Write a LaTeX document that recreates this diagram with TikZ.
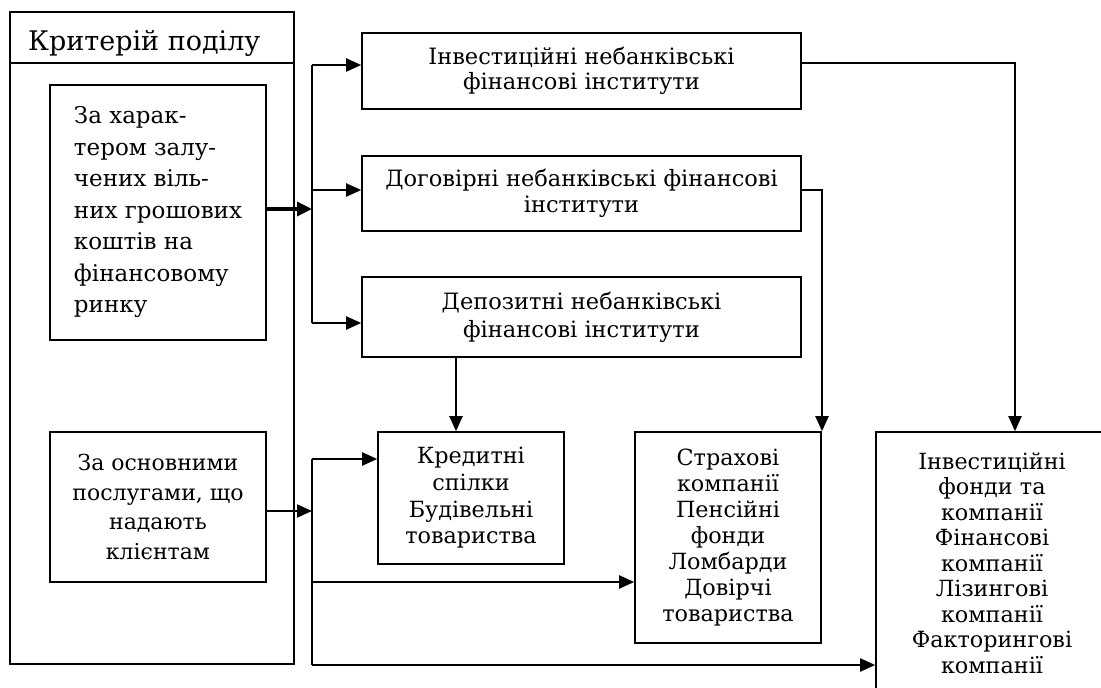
\documentclass[tikz,border=0pt]{standalone}
\usepackage{fontspec}
\setmainfont{DejaVu Serif}
\usetikzlibrary{arrows.meta}
\begin{document}
\begin{tikzpicture}[x=1pt,y=-1pt,
  box/.style={draw, line width=1.6pt, inner sep=0pt, align=center, font=\fontsize{22.3}{26}\selectfont},
  arr/.style={line width=2pt, -{Triangle[length=15pt,width=13pt]}},
  thickarr/.style={line width=3.4pt, -{Triangle[length=15pt,width=14pt]}},
  bus/.style={line width=2pt},
  sep/.style={line width=1.6pt}]
\useasboundingbox (0,0) rectangle (1101,688);
% outer criterion box
\node[box, minimum width=284pt, minimum height=652pt] (outer) at (152,338) {};
\node[anchor=base west, inner sep=0pt, font=\fontsize{27}{30}\selectfont] (hdr) at (28,50) {Критерій поділу};
\coordinate (hl) at (0,63);
\draw[sep] (outer.west |- hl) -- (outer.east |- hl);
% criteria
\node[box, align=left, minimum width=216pt, minimum height=255pt, font=\fontsize{23}{31.5}\selectfont] (k1) at (158,212.5)
  {За харак-\\тером залу-\\чених віль-\\них грошових\\коштів на\\фінансовому\\ринку};
\node[box, minimum width=216pt, minimum height=150pt, font=\fontsize{22}{29.5}\selectfont] (k2) at (158,507)
  {За основними\\послугами, що\\надають\\клієнтам};
% groups
\node[box, minimum width=439pt, minimum height=76pt, font=\fontsize{22.5}{25}\selectfont] (A) at (581.5,71)
  {Інвестиційні небанківські\\фінансові інститути};
\node[box, minimum width=439pt, minimum height=75pt, font=\fontsize{22.5}{26}\selectfont] (B) at (581.5,193.5)
  {Договірні небанківські фінансові\\інститути};
\node[box, minimum width=439pt, minimum height=80pt, font=\fontsize{22.5}{28}\selectfont] (C) at (581.5,317)
  {Депозитні небанківські\\фінансові інститути};
% institutions
\node[box, minimum width=186pt, minimum height=132pt, font=\fontsize{22.3}{26.7}\selectfont] (D) at (471,498)
  {Кредитні\\спілки\\Будівельні\\товариства};
\node[box, minimum width=186pt, minimum height=211pt] (E) at (728,537.5)
  {Страхові\\компанії\\Пенсійні\\фонди\\Ломбарди\\Довірчі\\товариства};
\node[box, minimum width=232pt, minimum height=262pt, font=\fontsize{22.3}{25.5}\selectfont] (F) at (992,563)
  {Інвестиційні\\фонди та\\компанії\\Фінансові\\компанії\\Лізингові\\компанії\\Факторингові\\компанії};
% first bus
\coordinate (j1) at (312,209);
\draw[thickarr] (k1.east |- j1) -- (j1);
\coordinate (t1) at (312,65);
\coordinate (t2) at (312,190);
\coordinate (t3) at (312,323);
\draw[bus] (t1) -- (t3);
\draw[arr] (t1) -- (t1 -| A.west);
\draw[arr] (t2) -- (t2 -| B.west);
\draw[arr] (t3) -- (t3 -| C.west);
% second bus
\coordinate (j2) at (312,511);
\draw[arr] (k2.east |- j2) -- (j2);
\coordinate (s1) at (312,459);
\coordinate (s2) at (312,582);
\coordinate (s3) at (312,665);
\draw[bus] (s1) -- (s3);
\draw[arr] (s1) -- (s1 -| D.west);
\draw[arr] (s2) -- (s2 -| E.west);
\draw[arr] (s3) -- (s3 -| F.west);
% group to institutions
\coordinate (c1) at (456,0);
\draw[arr] (C.south -| c1) -- (D.north -| c1);
\coordinate (r2) at (822,190);
\draw[arr] (B.east |- r2) -- (r2) -- (r2 |- E.north);
\coordinate (r1) at (1015,63);
\draw[arr] (A.east |- r1) -- (r1) -- (r1 |- F.north);
\end{tikzpicture}
\end{document}
